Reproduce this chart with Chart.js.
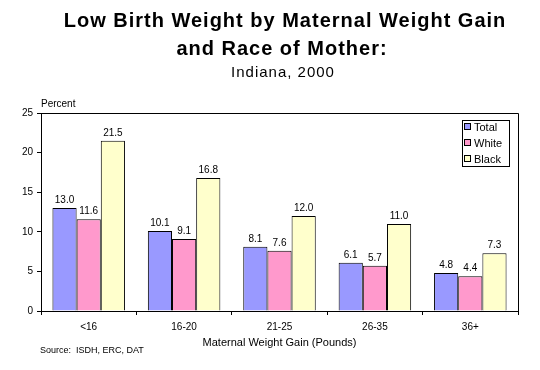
<!DOCTYPE html>
<html>
<head>
<meta charset="utf-8">
<script src="https://cdn.jsdelivr.net/npm/chart.js@4"></script>
<style>
  html, body { margin:0; padding:0; background:#fff; }
  #grafico { display:block; }
</style>
</head>
<body>
<canvas id="grafico" width="540" height="370"></canvas>
<script>
// ===== Dados =====
const categorias = ['<16', '16-20', '21-25', '26-35', '36+'];
const total = [13.0, 10.1, 8.1, 6.1, 4.8];
const branca = [11.6, 9.1, 7.6, 5.7, 4.4];
const negra = [21.5, 16.8, 12.0, 11.0, 7.3];
const nomesSeries = ['Total', 'White', 'Black'];
const yTicks = [0, 5, 10, 15, 20, 25];

const cores = ['#9999FF', '#FF99CC', '#FFFFCC'];
const FONTE = 'Arial, "Liberation Sans", sans-serif';

// ===== Plugins =====
// titulo, moldura, rotulos e legenda desenhados direto no canvas
const extras = {
  id: 'extras',
  afterDraw(chart){
    const ctx = chart.ctx;
    const a = chart.chartArea;
    ctx.save();

    // moldura (topo e direita)
    ctx.strokeStyle = '#000';
    ctx.lineWidth = 1;
    ctx.beginPath();
    ctx.moveTo(a.left, Math.floor(a.top)+0.5);
    ctx.lineTo(Math.floor(a.right)+0.5, Math.floor(a.top)+0.5);
    ctx.lineTo(Math.floor(a.right)+0.5, a.bottom);
    ctx.stroke();

    // titulos
    ctx.fillStyle = '#000';
    ctx.textAlign = 'center';
    ctx.textBaseline = 'alphabetic';
    ctx.letterSpacing = '1px';
    ctx.font = 'bold 20px ' + FONTE;
    ctx.fillText('Low Birth Weight by Maternal Weight Gain', 285, 27);
    ctx.fillText('and Race of Mother:', 282, 55);
    ctx.font = '15px ' + FONTE;
    ctx.fillText('Indiana, 2000', 283, 77);
    ctx.letterSpacing = '0px';

    // "Percent" e fonte
    ctx.textAlign = 'left';
    ctx.font = '10px ' + FONTE;
    ctx.fillText('Percent', 41, 107);
    ctx.font = '9px ' + FONTE;
    ctx.fillText('Source:  ISDH, ERC, DAT', 40, 353);

    // valores acima das barras
    ctx.textAlign = 'center';
    ctx.font = '10px ' + FONTE;
    chart.data.datasets.forEach((ds, i) => {
      chart.getDatasetMeta(i).data.forEach((bar, j) => {
        ctx.fillText(ds.data[j].toFixed(1), bar.x, bar.y - 5);
      });
    });

    // legenda
    const lx = 462.5, ly = 120.5, lw = 47, lh = 46;
    ctx.fillStyle = '#fff';
    ctx.fillRect(lx, ly, lw, lh);
    ctx.strokeRect(lx, ly, lw, lh);
    ctx.textAlign = 'left';
    ctx.textBaseline = 'middle';
    ctx.font = '11px ' + FONTE;
    chart.data.datasets.forEach((ds, i) => {
      const cy = 127 + i*16;
      ctx.fillStyle = ds.backgroundColor;
      ctx.fillRect(464.5, cy - 3.5, 6, 6);
      ctx.strokeRect(464.5, cy - 3.5, 6, 6);
      ctx.fillStyle = '#000';
      ctx.fillText(ds.label, 474, cy + 0.5);
    });
    ctx.restore();
  }
};

// ===== Grafico =====
const valores = [total, branca, negra];
new Chart(document.getElementById('grafico').getContext('2d'), {
  type: 'bar',
  data: {
    labels: categorias,
    datasets: nomesSeries.map((nome, i) => ({
      label: nome,
      data: valores[i],
      backgroundColor: cores[i],
      borderColor: '#000',
      borderWidth: 1,
      barPercentage: 1,
      categoryPercentage: 0.76
    }))
  },
  options: {
    responsive: false,
    animation: false,
    devicePixelRatio: 1,
    layout: { padding: { top: 113, right: 22, left: 0, bottom: 0 } },
    plugins: { legend: { display: false }, tooltip: { enabled: false } },
    scales: {
      x: {
        grid: { drawOnChartArea: false, tickLength: 4, color: '#000', offset: true },
        border: { color: '#000' },
        ticks: { color: '#000', font: { size: 10, family: FONTE }, padding: 6 },
        title: { display: true, text: 'Maternal Weight Gain (Pounds)', color: '#000',
                 font: { size: 11, family: FONTE }, padding: { top: 0, bottom: 20 } },
        afterFit: s => { s.height = 59; }
      },
      y: {
        min: 0, max: 25,
        afterBuildTicks: s => { s.ticks = yTicks.map(v => ({ value: v })); },
        grid: { drawOnChartArea: false, tickLength: 4, color: '#000' },
        border: { color: '#000' },
        ticks: { color: '#000', font: { size: 10, family: FONTE }, padding: 4 },
        afterFit: s => { s.width = 41; }
      }
    }
  },
  plugins: [extras]
});
</script>
</body>
</html>
